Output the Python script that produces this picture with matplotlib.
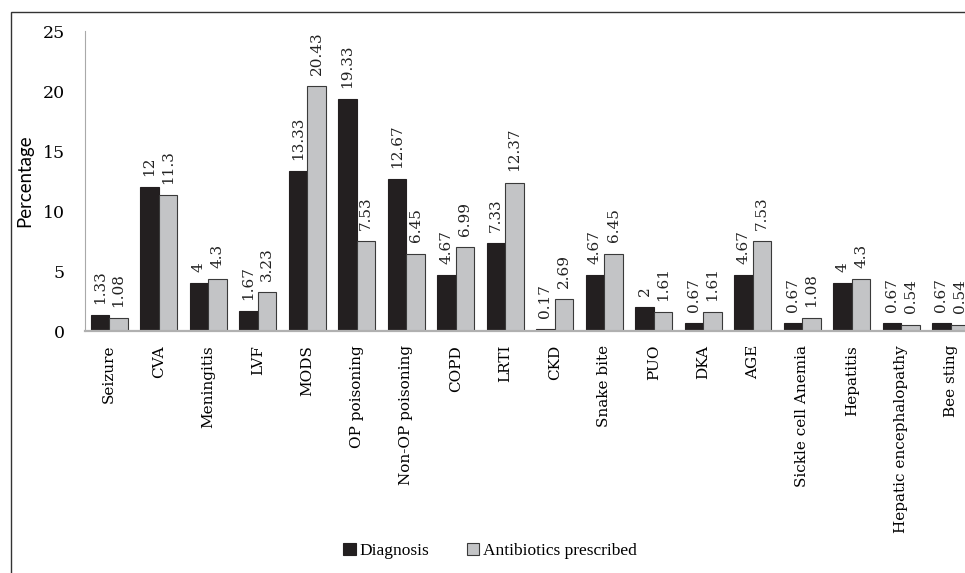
import numpy as np
import matplotlib
matplotlib.use("Agg")
import matplotlib.pyplot as plt
from matplotlib.patches import Rectangle

categories = ["Seizure", "CVA", "Meningitis", "LVF", "MODS", "OP poisoning",
              "Non-OP poisoning", "COPD", "LRTI", "CKD", "Snake bite", "PUO",
              "DKA", "AGE", "Sickle cell Anemia", "Hepatitis",
              "Hepatic encephalopathy", "Bee sting"]
diagnosis = [1.33, 12, 4, 1.67, 13.33, 19.33, 12.67, 4.67, 7.33, 0.17, 4.67,
             2, 0.67, 4.67, 0.67, 4, 0.67, 0.67]
antibiotics = [1.08, 11.3, 4.3, 3.23, 20.43, 7.53, 6.45, 6.99, 12.37, 2.69,
               6.45, 1.61, 1.61, 7.53, 1.08, 4.3, 0.54, 0.54]
yticks = [0, 5, 10, 15, 20, 25]

serif = "DejaVu Serif"

fig = plt.figure(figsize=(9.65, 5.73), dpi=100)
# outer frame of the figure panel
fig.patches.append(Rectangle((11 / 965, -0.1), 1.1, (573 - 12) / 573 + 0.1,
                             transform=fig.transFigure, fill=False,
                             edgecolor="#333333", linewidth=1.0))

ax = fig.add_axes([84.5 / 965, 242 / 573, 891 / 965, 300 / 573])
x = np.arange(len(categories))
w = 0.374
b1 = ax.bar(x - w / 2, diagnosis, w, color="#231f20", edgecolor="#231f20",
            linewidth=0.8, label="Diagnosis")
b2 = ax.bar(x + w / 2, antibiotics, w, color="#c3c4c6", edgecolor="#3a3a3a",
            linewidth=0.8, label="Antibiotics prescribed")

def fmt(v):
    return ("%g" % v)

for bars, vals in ((b1, diagnosis), (b2, antibiotics)):
    for r, v in zip(bars, vals):
        ax.annotate(fmt(v), (r.get_x() + r.get_width() / 2, v),
                    xytext=(0, 8), textcoords="offset points",
                    rotation=90, ha="center", va="bottom",
                    fontsize=11, family=serif, color="#222222")

ax.set_xlim(-0.5, len(categories) - 0.5)
ax.set_ylim(0, 25)
ax.set_yticks(yticks)
ax.set_yticklabels([str(t) for t in yticks], family=serif, fontsize=12.5)
ax.set_xticks(x)
ax.set_xticklabels(categories, rotation=90, family=serif, fontsize=11,
                   va="top", ha="center")
ax.tick_params(axis="both", length=0)
ax.tick_params(axis="y", pad=14)
ax.tick_params(axis="x", pad=10)
ax.set_ylabel("Percentage", family="Lato", fontsize=13.4, labelpad=7)

for s in ("top", "right"):
    ax.spines[s].set_visible(False)
ax.spines["left"].set_color("#a9a9a9")
ax.spines["bottom"].set_color("#b0b0b0")
ax.spines["bottom"].set_linewidth(1.6)

leg = fig.legend(handles=[b1, b2], loc="center",
                 bbox_to_anchor=(490 / 965, 1 - 551 / 573),
                 ncol=2, frameon=False, handlelength=0.7, handleheight=0.7,
                 handletextpad=0.2, columnspacing=2.2,
                 prop={"family": "Liberation Serif", "size": 12.5})

fig.savefig("out.png", dpi=100)
